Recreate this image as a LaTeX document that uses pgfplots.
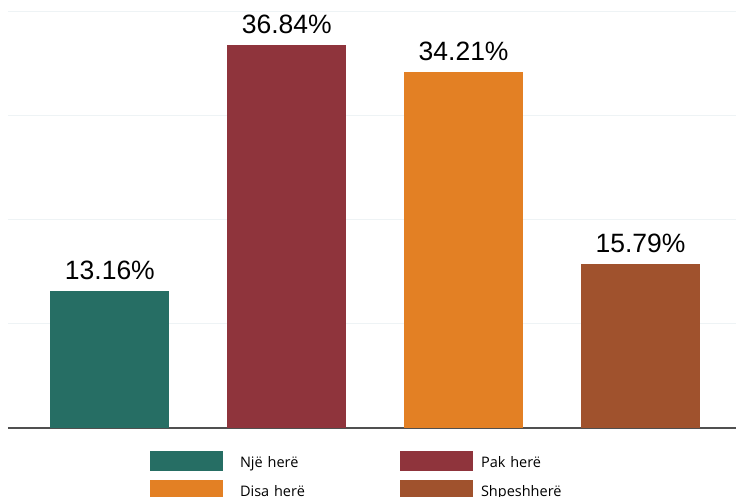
\documentclass[border=0pt]{standalone}
\usepackage{fontspec}
\setmainfont{Liberation Sans}
\newfontfamily\legfont{Open Sans}
\usepackage{pgfplots}
\pgfplotsset{compat=1.18}
\definecolor{c1}{RGB}{38,110,100}
\definecolor{c2}{RGB}{143,52,60}
\definecolor{c3}{RGB}{227,128,36}
\definecolor{c4}{RGB}{160,82,45}
\definecolor{gridc}{RGB}{238,243,245}
\definecolor{axisc}{RGB}{80,80,80}
\begin{document}
\begin{tikzpicture}
\begin{axis}[
  at={(0pt,0pt)}, anchor=south west,
  scale only axis, width=728pt, height=428pt,
  xmin=-0.576, xmax=3.54, ymin=0, ymax=41.15,
  ybar, bar width=119pt, bar shift=0pt,
  axis lines*=left,
  y axis line style={draw=none},
  x axis line style={color=axisc, line width=1.5pt},
  xtick=\empty, ytick={10,20,30,40}, yticklabels={},
  major tick length=0pt,
  ymajorgrids, major grid style={color=gridc, line width=1pt},
  clip=false,
  /pgf/number format/assume math mode=true,
  nodes near coords={\pgfmathprintnumber[fixed,precision=2,fixed zerofill]{\pgfplotspointmeta}\%},
  every node near coord/.append style={font=\fontsize{26.5}{29}\selectfont, color=black, inner sep=0pt, text depth=0pt, anchor=south, yshift=11pt},
  legend columns=2,
  legend image code/.code={\fill[#1] (0pt,-10pt) rectangle (73pt,10pt);},
  legend cell align=left,
  legend style={at={(axis description cs:0.1951,-0.0537)}, anchor=north west,
    draw=none, fill=none, inner sep=0pt, outer sep=0pt, row sep=9pt,
    nodes={inner sep=0pt, text width=140pt, align=left, text height=16pt, text depth=2pt,
      font=\legfont\fontsize{14.5}{17}\selectfont},
    /tikz/column 1/.style={column sep=17pt},
    /tikz/column 2/.style={column sep=20pt},
    /tikz/column 3/.style={column sep=8pt}},
]
\addplot[fill=c1, draw=none] coordinates {(0,13.16)};
\addlegendentry{Një herë}
\addplot[fill=c2, draw=none] coordinates {(1,36.84)};
\addlegendentry{Pak herë}
\addplot[fill=c3, draw=none] coordinates {(2,34.21)};
\addlegendentry{Disa herë}
\addplot[fill=c4, draw=none] coordinates {(3,15.79)};
\addlegendentry{Shpeshherë}
\end{axis}
\pgfresetboundingbox
\path (-8pt,-68pt) rectangle (728pt,428pt);
\end{tikzpicture}
\end{document}
